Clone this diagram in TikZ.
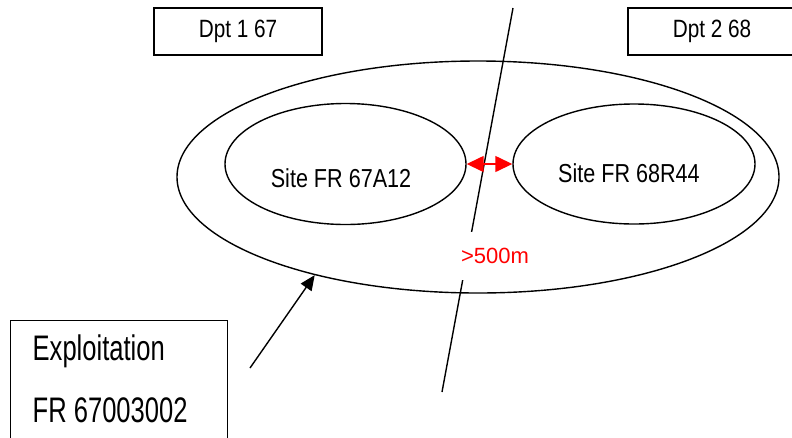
\documentclass[tikz,border=0pt]{standalone}
\usepackage{fontspec}
\setmainfont{Liberation Sans}
\newfontfamily\narrowfont[FakeStretch=0.83]{Liberation Sans}
\newfontfamily\narrowerfont[FakeStretch=0.72]{Liberation Sans}
\usetikzlibrary{shapes.geometric,arrows.meta}

\tikzset{
  dptbox/.style={draw,rectangle,minimum width=168,minimum height=47,inner sep=0,
    font=\narrowfont\fontsize{25}{30}\selectfont},
  sitering/.style={draw,ellipse,inner sep=0},
  sitetxt/.style={inner sep=0,font=\narrowfont\fontsize{26}{31}\selectfont},
  exptxt/.style={inner sep=0,anchor=base west,font=\narrowerfont\fontsize{35.5}{42}\selectfont}
}

\begin{document}
\begin{tikzpicture}[x=1pt,y=-1pt,line width=1.4pt]
    \useasboundingbox (0,0) rectangle (792,437);
    \node[dptbox] (D1) at (238,31.5) {Dpt 1 67};
    \node[dptbox] (D2) at (712,31.5) {Dpt 2 68};
    \node[sitering,minimum width=602,minimum height=232] (X) at (478,177) {};
    \node[sitering,minimum width=241,minimum height=121] (S1) at (345.5,164) {};
    \node[sitering,minimum width=242,minimum height=120] (S2) at (634,164) {};
    \node[sitetxt] (T1) at (341,178) {Site FR 67A12};
    \node[sitetxt] (T2) at (629,173.5) {Site FR 68R44};
    \coordinate (top) at (513,8);
    \coordinate (bot) at (442,392);
    \draw (top) -- (bot);
    \node[fill=white,text=red,inner xsep=5,minimum height=48,
      font=\fontsize{22}{26}\selectfont] (dist) at (495,256) {>500m};
    \draw[red,{Triangle[length=17,width=16]}-{Triangle[length=17,width=16]}] (S1.east) -- (S2.west);
    \node[draw,rectangle,anchor=north west,minimum width=217,minimum height=140,inner sep=0] (E) at (10,320) {};
    \node[exptxt] (E1) at (32,360) {Exploitation};
    \node[exptxt] (E2) at (32,422) {FR 67003002};
    \coordinate (tail) at (250,368);
    \draw[-{Triangle[length=15,width=13]}] (tail) -- (X.211.6);
\end{tikzpicture}
\end{document}
